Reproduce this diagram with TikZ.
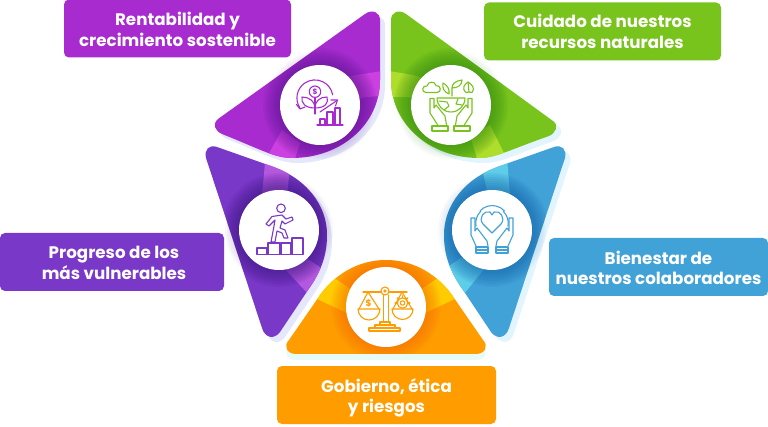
\documentclass[tikz,border=0pt]{standalone}
\usepackage{fontspec}
\setmainfont{Poppins}
\definecolor{cmag}{HTML}{A82BD0}\definecolor{cmagl}{HTML}{CC3FE0}\definecolor{cmagd}{HTML}{5A1590}
\definecolor{cgrn}{HTML}{78C31C}\definecolor{cgrnl}{HTML}{AEDD2B}\definecolor{cgrnd}{HTML}{2F8A10}
\definecolor{cblu}{HTML}{41A2D8}\definecolor{cblul}{HTML}{5DCDE9}\definecolor{cblud}{HTML}{1260A8}
\definecolor{corg}{HTML}{FF9D00}\definecolor{corgl}{HTML}{FFCC00}\definecolor{corgd}{HTML}{F56A00}
\definecolor{cvio}{HTML}{7A38C8}\definecolor{cviol}{HTML}{B558E0}\definecolor{cviod}{HTML}{3A1580}
\definecolor{spur}{HTML}{E4E8FA}\definecolor{sblu}{HTML}{E2F5FF}\definecolor{smin}{HTML}{E6FBF6}
\tikzset{
 x=1pt,y=-1pt,
 lab/.style={rounded corners=5pt,minimum height=58pt,inner sep=0pt},
 labtext/.style={text=white,align=center,font=\fontsize{16.7}{20.5}\selectfont\bfseries,inner sep=0pt},
 disc/.style={circle,fill=white,minimum size=80pt,inner sep=0pt},
 ico/.style={line width=1.1pt,line cap=round,line join=round,fill=none}
}
\newcommand{\ringglow}[3]{\foreach \r in {41,43,...,#3}{\fill[#1,opacity=.09] #2 circle (\r);}}
\newcommand{\outerglow}[2]{\foreach \r in {42,44,...,54}{\fill[#1,opacity=.035] #2 circle (\r);}}
\begin{document}
\begin{tikzpicture}
\useasboundingbox (0,0) rectangle (768,427);
\def\pA{(380,20) -- (380,80) .. controls (380,125) and (340,158) .. (292,158) .. controls (275,158) and (262,150) .. (222,134) .. controls (215,131) and (212,124) .. (218,119) -- (365,14) .. controls (372,9) and (380,12) .. (380,20) -- cycle}
\def\pB{(391,20) -- (391,80) .. controls (391,125) and (431,158) .. (479,158) .. controls (496,158) and (509,150) .. (549,136) .. controls (556,133) and (559,125) .. (553,121) -- (406,14) .. controls (399,9) and (391,12) .. (391,20) -- cycle}
\def\pC{(565,158) -- (509,328) .. controls (506,338) and (497,340) .. (491,332) -- (463,290) .. controls (450,272) and (444,255) .. (444,235) .. controls (444,205) and (465,178) .. (500,166) -- (554,147) .. controls (562,144) and (567,150) .. (565,158) -- cycle}
\def\pD{(206,158) -- (262,328) .. controls (265,338) and (274,340) .. (280,332) -- (308,290) .. controls (321,272) and (327,255) .. (327,235) .. controls (327,205) and (306,178) .. (271,166) -- (217,147) .. controls (209,144) and (204,150) .. (206,158) -- cycle}
\def\pE{(296,354) .. controls (287,354) and (283,346) .. (289,340) -- (318,298) .. controls (333,275) and (358,260) .. (386,260) .. controls (414,260) and (439,275) .. (454,298) -- (483,340) .. controls (489,346) and (485,354) .. (476,354) -- cycle}
% pale offset shadows
\fill[spur,shift={(5,5)}] \pA;
\fill[sblu,shift={(5,5)}] \pB;
\fill[sblu,shift={(5,5)}] \pC;
\fill[spur,shift={(5,5)}] \pD;
\fill[smin,shift={(0,6)}] \pE;
% soft glow beyond the petals
\outerglow{cmagd}{(320,105)}
\outerglow{cgrnd}{(451,105)}
\outerglow{cblud}{(492,230)}
\outerglow{cviod}{(279,230)}
% petals
\begin{scope}\clip \pA;
 \fill[cmag] (200,0) rectangle (400,170);
 \fill[cmagl] (340,78) -- (357,75) -- (382,71) -- (382,96) -- (367,97) -- (345,100) -- cycle;
 \fill[cmagl] (268,155) -- (282,130) -- (300,143) -- (294,162) -- cycle;
 \ringglow{cmagd}{(320,105)}{57}
\end{scope}
\begin{scope}\clip \pB;
 \fill[cgrn] (385,0) rectangle (570,170);
 \fill[cgrnl] (389,71) -- (413,75) -- (430,80) -- (430,100) -- (408,97) -- (389,97) -- cycle;
 \fill[cgrnl] (478,162) -- (470,135) -- (490,125) -- (504,153) -- cycle;
 \ringglow{cgrnd}{(451,105)}{57}
\end{scope}
\begin{scope}\clip \pC;
 \fill[cblu] (440,140) rectangle (570,345);
 \fill[cblul] (481,163) -- (507,158) -- (510,195) -- (488,195) -- cycle;
 \fill[cblul] (446,268) -- (470,252) -- (485,268) -- (464,294) -- cycle;
 \ringglow{cblud}{(492,230)}{57}
\end{scope}
\begin{scope}\clip \pD;
 \fill[cvio] (200,140) rectangle (330,345);
 \fill[cviol] (265,163) -- (290,168) -- (287,195) -- (262,195) -- cycle;
 \fill[cviol] (286,270) -- (302,255) -- (327,272) -- (309,295) -- cycle;
 \ringglow{cviod}{(279,230)}{57}
\end{scope}
\begin{scope}\clip \pE;
 \fill[corg] (280,255) rectangle (490,355);
 \fill[corgl] (315,298) -- (347,313) -- (352,290) -- (331,276) -- cycle;
 \fill[corgl] (457,298) -- (425,313) -- (420,290) -- (441,276) -- cycle;
 \ringglow{corgd}{(386,307)}{55}
\end{scope}
% discs
\node[disc] (d1) at (320,105) {};
\node[disc] (d2) at (451,105) {};
\node[disc] (d3) at (492,230) {};
\node[disc] (d4) at (386,307) {};
\node[disc] (d5) at (279,230) {};
% icon 1: plant and growth
\begin{scope}[ico,draw=cmag]
 \draw (315,91.7) circle (5.7);
 \node[text=cmag,inner sep=0pt,font=\fontsize{7.5}{8}\selectfont\bfseries] (dollarA) at (315,91.7) {\$};
 \draw (300,108) arc[start angle=146,end angle=350,radius=18];
 \draw (296.5,104.5) -- (300,109) -- (305,107);
 \draw (315,97.5) -- (315,114);
 \draw (315,108) .. controls (305,108) and (301,103) .. (302,97) .. controls (309,97) and (315,101) .. (315,108) -- cycle;
 \draw (315,108) .. controls (325,108) and (329,103) .. (327,97) .. controls (320,97) and (315,101) .. (315,108) -- cycle;
 \draw (320,112) -- (337,100.5);
 \draw (331,100) -- (337.5,100) -- (335.5,106);
 \draw (317,125) -- (343,125);
 \draw (320,125) rectangle (325,119);
 \draw (327,125) rectangle (333,112);
 \draw (335,125) rectangle (340,108);
\end{scope}
% icon 2: hands and earth
\begin{scope}[ico,draw=cgrn]
 \draw (426,92.5) .. controls (421,92.5) and (422,85) .. (427,86) .. controls (428,81) and (435,81) .. (436,85.5) .. controls (441,85) and (442,92.5) .. (437,92.5) -- cycle;
 \draw (466,92.5) .. controls (461,88) and (465,84) .. (468,82) .. controls (471,84) and (476,88) .. (472,92.5) -- (469,92) -- cycle;
 \draw (468,82) -- (469,92);
 \draw (452,96) -- (452,88) .. controls (452,84) and (455,81) .. (462,80) .. controls (462,85) and (458,88) .. (452,88);
 \draw (449,94) .. controls (444,92) and (442,88) .. (443,83) .. controls (447,85) and (450,89) .. (449,94) -- cycle;
 \draw (437,98) -- (465,98) arc[start angle=0,end angle=180,radius=14];
 \draw (439,101) -- (447,102) -- (449,106) -- (444,110);
 \draw (458,99) -- (456,104) -- (462,105);
 \foreach \s in {1,-1}{
 \begin{scope}[shift={(451,0)},xscale=\s]
  \draw (-13.3,125) -- (-21,113) -- (-21,98.5) -- (-17,98.5) -- (-17,108) -- (-15,105) -- (-6,116) -- (-4.5,125);
  \draw (-19,126) rectangle (-3,131);
 \end{scope}}
\end{scope}
% icon 3: hands and heart
\begin{scope}[ico,draw=cblu]
 \draw (492,233) -- (483,224) .. controls (478,218) and (484,210) .. (490,212) -- (492,215) -- (494,212) .. controls (500,210) and (506,218) .. (501,224) -- cycle;
 \draw (476,226) arc[start angle=170,end angle=225,radius=16.5];
 \draw (480,211) arc[start angle=222,end angle=318,radius=16.5];
 \draw (508,226) arc[start angle=10,end angle=-45,radius=16.5];
 \foreach \s in {1,-1}{
 \begin{scope}[shift={(492,0)},xscale=\s]
  \draw (-16,246) -- (-21,235) -- (-21,218) -- (-17,218) -- (-17,231) -- (-15,228) -- (-5,241) -- (-4,246);
  \draw (-16,247) rectangle (-4,253);
  \draw (-16,250) -- (-4,250);
 \end{scope}}
\end{scope}
% icon 4: balance
\begin{scope}[ico,draw=corg]
 \draw (363,292) -- (380.5,292);
 \draw (389.5,292) -- (407,292);
 \draw (385,291) circle (4);
 \draw (385,291) circle (1.2);
 \draw (383.5,295) -- (383.5,322) (388.5,295) -- (388.5,322);
 \draw (380,322) rectangle (390,325);
 \draw (375,325) rectangle (395,328);
 \draw (369,328) rectangle (400,331);
 \draw (380,309) arc[start angle=0,end angle=180,radius=11] -- cycle;
 \draw (413,309) arc[start angle=0,end angle=180,radius=10.5] -- cycle;
 \draw (359,309) -- (368,292) -- (379,309);
 \draw (393,309) -- (402,292) -- (412,309);
 \node[text=corg,inner sep=0pt,font=\fontsize{9}{9}\selectfont\bfseries] (dollarB) at (368.7,303) {\$};
 \draw (402.5,303) circle (2.2);
 \draw (402.5,303) circle (5.2);
 \foreach \a in {180,225,270,315,360}{\draw[line width=1.6pt] (402.5,303) ++(\a:5.2) -- ++(\a:2);}
\end{scope}
% icon 5: climbing person
\begin{scope}[ico,draw=cvio]
 \draw (281,208.3) circle (4.3);
 \draw (266,224) -- (272,216.5) -- (282,215) -- (286,219) -- (292,217) -- (293,220) -- (285,224) -- (282,221) -- (280,228) -- (285,230) -- (288,238) -- (284,238) -- (282,233) -- (277,231) -- (275,242) -- (271,242) -- (274,226) -- (275,220) -- (269,226) -- cycle;
 \draw (257,248) rectangle (267,254.5);
 \draw (268,243) rectangle (280,254.5);
 \draw (281,243) rectangle (291,254.5);
 \draw (292,238) rectangle (303,254.5);
\end{scope}
% labels
\node[lab,fill=cmag,minimum width=227pt] (l1) at (177.5,28.5) {};
\node[labtext] (t1) at (177.5,29.5) {Rentabilidad y\\crecimiento sostenible};
\node[lab,fill=cgrn,minimum width=237pt] (l2) at (602.5,31.5) {};
\node[labtext] (t2) at (602.5,31.5) {Cuidado de nuestros\\recursos naturales};
\node[lab,fill=cblu,minimum width=219pt] (l3) at (658.5,267) {};
\node[labtext] (t3) at (658.5,268) {Bienestar de\\nuestros colaboradores};
\node[lab,fill=cvio,minimum width=224pt] (l5) at (112,262) {};
\node[labtext] (t5) at (114,263) {Progreso de los\\más vulnerables};
\node[lab,fill=corg,minimum width=219pt] (l4) at (386.5,395) {};
\node[labtext] (t4) at (386.5,398) {Gobierno, ética\\y riesgos};
\end{tikzpicture}
\end{document}
